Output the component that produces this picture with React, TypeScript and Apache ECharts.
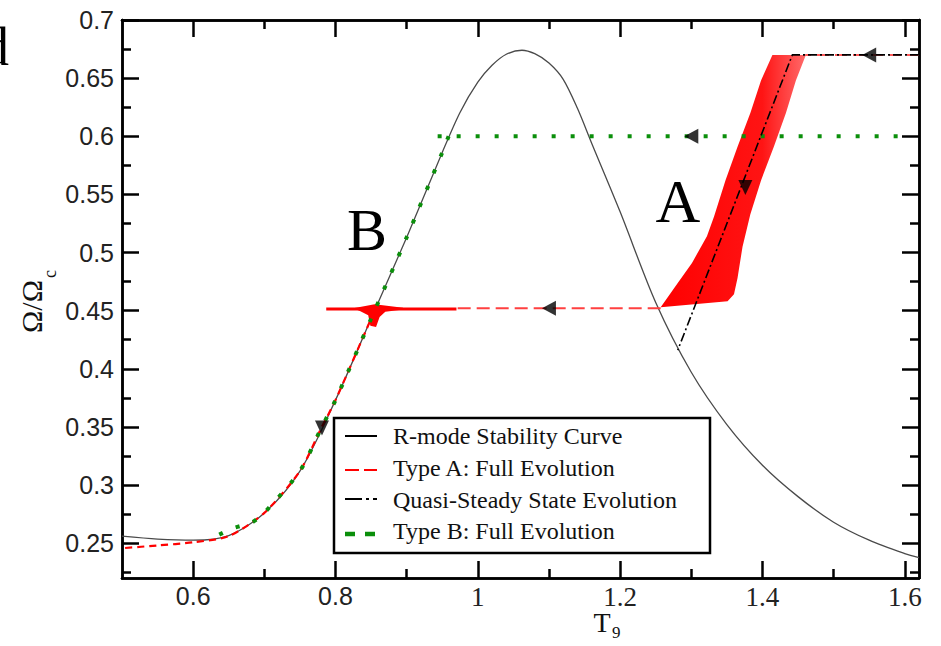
import React, { useEffect, useRef } from 'react';
import * as echarts from 'echarts';

// ---- axes ----
const xMin = 0.5;
const xMax = 1.62;
const yMin = 0.22;
const yMax = 0.7;
const xMajorTicks = [0.6, 0.8, 1, 1.2, 1.4, 1.6];
const xMinorTicks = [0.7, 0.9, 1.1, 1.3, 1.5];
const yMajorTicks = [0.25, 0.3, 0.35, 0.4, 0.45, 0.5, 0.55, 0.6, 0.65, 0.7];
const yMinorTicks = [0.225, 0.275, 0.325, 0.375, 0.425, 0.475, 0.525, 0.575, 0.625, 0.675];

// ---- R-mode stability curve ----
const stabilityT = [0.5, 0.55, 0.6, 0.65, 0.7, 0.75, 0.8, 0.85, 0.9, 0.95, 0.975, 1.0, 1.02, 1.04, 1.062, 1.08, 1.1, 1.12, 1.14, 1.16, 1.2, 1.25, 1.3, 1.35, 1.4, 1.45, 1.5, 1.55, 1.6, 1.62];
const stabilityOmega = [0.256, 0.2535, 0.2525, 0.2565, 0.276, 0.312, 0.373, 0.443, 0.513, 0.586, 0.6205, 0.6465, 0.661, 0.6705, 0.674, 0.671, 0.663, 0.649, 0.624, 0.594, 0.535, 0.457, 0.397, 0.352, 0.317, 0.29, 0.268, 0.2525, 0.241, 0.2375];

// ---- Type A: full evolution ----
const typeATopT = [1.62, 1.46];
const typeATopOmega = [0.67, 0.67];
const typeAFlatDashT = [1.257, 0.97];
const typeAFlatDashOmega = [0.452, 0.452];
const typeAFlatSolidT = [0.97, 0.787];
const typeAFlatSolidOmega = [0.4515, 0.4515];
const typeADownT = [0.855, 0.85, 0.8, 0.78, 0.75, 0.7, 0.65, 0.6, 0.55, 0.5];
const typeADownOmega = [0.45, 0.443, 0.373, 0.349, 0.312, 0.276, 0.256, 0.2507, 0.248, 0.2456];
// oscillating band (outline)
const bandLeftT = [1.257, 1.28, 1.301, 1.322, 1.332, 1.348, 1.365, 1.383, 1.398, 1.414];
const bandLeftOmega = [0.453, 0.473, 0.491, 0.514, 0.531, 0.562, 0.591, 0.62, 0.648, 0.67];
const bandRightT = [1.461, 1.447, 1.433, 1.416, 1.398, 1.383, 1.372, 1.365, 1.36, 1.351];
const bandRightOmega = [0.67, 0.648, 0.62, 0.591, 0.562, 0.533, 0.505, 0.478, 0.464, 0.458];
// small burst near the crossing
const blobT = [0.825, 0.855, 0.895, 0.895, 0.87, 0.862, 0.857, 0.849, 0.846, 0.835];
const blobOmega = [0.452, 0.4555, 0.4525, 0.451, 0.449, 0.4445, 0.436, 0.437, 0.446, 0.4495];

// ---- Quasi-steady state evolution ----
const quasiT = [1.62, 1.442, 1.281];
const quasiOmega = [0.67, 0.67, 0.416];

// ---- Type B: full evolution ----
const typeBFlatT = [1.59, 0.93];
const typeBFlatOmega = [0.6, 0.6];
const typeBDownT = [0.959, 0.95, 0.9, 0.85, 0.8, 0.78, 0.75, 0.7, 0.683, 0.656, 0.635];
const typeBDownOmega = [0.6, 0.586, 0.513, 0.443, 0.373, 0.349, 0.312, 0.276, 0.268, 0.2628, 0.2568];

// ---- direction arrows ----
const arrowLeftT = [1.55, 1.3, 1.1];
const arrowLeftOmega = [0.67, 0.6, 0.452];
const arrowDownT = [1.376, 0.781];
const arrowDownOmega = [0.556, 0.349];

// ---- legend ----
const legendLabels = ['R-mode Stability Curve', 'Type A: Full Evolution', 'Quasi-Steady State Evolution', 'Type B: Full Evolution'];

const zip = (a: number[], b: number[]) => a.map((v, i) => [v, b[i]]);

const SERIF = 'Liberation Serif';
const SANS = 'Liberation Sans';
const RED = '#ff0000';
const GREEN = '#0b8f0b';

function mkX(position: string, ticks: number[], len: number, labels: boolean) {
  return {
    type: 'value',
    gridIndex: 0,
    position,
    min: xMin,
    max: xMax,
    axisLine: { show: true, onZero: false, lineStyle: { color: '#000', width: 2.5 } },
    axisTick: { show: true, inside: true, length: len, customValues: ticks, lineStyle: { color: '#000', width: 2.5 } },
    axisLabel: labels
      ? {
          show: true,
          customValues: ticks,
          margin: 5,
          formatter: (v: number) => (v >= 1 ? `{r|${String(v)}}` : `{s|${String(v)}}`),
          rich: {
            r: { fontFamily: SERIF, fontSize: 27, color: '#222' },
            s: { fontFamily: SANS, fontSize: 25, color: '#222' },
          },
        }
      : { show: false },
    splitLine: { show: false },
  };
}

function mkY(position: string, ticks: number[], len: number, labels: boolean) {
  return {
    type: 'value',
    gridIndex: 0,
    position,
    min: yMin,
    max: yMax,
    axisLine: { show: true, onZero: false, lineStyle: { color: '#000', width: 2.5 } },
    axisTick: { show: true, inside: true, length: len, customValues: ticks, lineStyle: { color: '#000', width: 2.5 } },
    axisLabel: labels
      ? { show: true, customValues: ticks, margin: 8, fontFamily: SANS, fontSize: 25, color: '#222' }
      : { show: false },
    splitLine: { show: false },
  };
}

function lineSeries(data: number[][], color: string, width: number, type: any, z: number) {
  return {
    type: 'line',
    data,
    symbol: 'none',
    silent: true,
    z,
    lineStyle: { color, width, type },
  };
}

function polygonSeries(ts: number[], os: number[], fill: any, z: number) {
  return {
    type: 'custom',
    silent: true,
    z,
    data: [[ts[0], os[0]]],
    renderItem: (_p: any, api: any) => {
      const points = ts.map((t, i) => api.coord([t, os[i]]));
      return { type: 'polygon', shape: { points }, style: { fill, stroke: null } };
    },
  };
}

export default function App() {
  const ref = useRef<HTMLDivElement>(null);
  useEffect(() => {
    if (!ref.current) return;
    const chart = echarts.init(ref.current, null, { renderer: 'svg' });
    const bandT = bandLeftT.concat(bandRightT);
    const bandO = bandLeftOmega.concat(bandRightOmega);
    const bandFill = new echarts.graphic.LinearGradient(0, 0, 1, 0, [
      { offset: 0, color: '#ff0000' },
      { offset: 0.7, color: '#ff1414' },
      { offset: 1, color: '#ff6a6a' },
    ]);
    const legY = [436, 468, 500, 531];
    const option: any = {
      animation: false,
      backgroundColor: '#ffffff',
      grid: { left: 122, top: 20, right: 22, bottom: 68, containLabel: false, outerBoundsMode: 'none' },
      xAxis: [
        mkX('bottom', xMajorTicks, 17, true),
        mkX('bottom', xMinorTicks, 9, false),
        mkX('top', xMajorTicks, 17, false),
        mkX('top', xMinorTicks, 9, false),
      ],
      yAxis: [
        mkY('left', yMajorTicks, 17, true),
        mkY('left', yMinorTicks, 9, false),
        mkY('right', yMajorTicks, 17, false),
        mkY('right', yMinorTicks, 9, false),
      ],
      series: [
        { ...lineSeries(zip(stabilityT, stabilityOmega), '#4a4a4a', 1.3, 'solid', 2), smooth: 0.3 },
        polygonSeries(bandT, bandO, bandFill, 3),
        polygonSeries(blobT, blobOmega, RED, 3),
        lineSeries(zip(typeATopT, typeATopOmega), '#ff5a5a', 2, [12, 6], 3),
        lineSeries(zip(typeAFlatDashT, typeAFlatDashOmega), '#ff4040', 2, [13, 6], 3),
        lineSeries(zip(typeAFlatSolidT, typeAFlatSolidOmega), RED, 3, 'solid', 3),
        { ...lineSeries(zip(typeADownT, typeADownOmega), RED, 2.2, [7, 5], 3), smooth: 0.25 },
        lineSeries(zip(typeBFlatT, typeBFlatOmega), GREEN, 4, [4, 15], 4),
        { ...lineSeries(zip(typeBDownT, typeBDownOmega), GREEN, 4, [4, 14], 4), smooth: 0.25 },
        lineSeries(zip(quasiT, quasiOmega), '#000', 1.6, [9, 3, 2, 3], 5),
        {
          type: 'scatter',
          silent: true,
          z: 6,
          data: zip(arrowLeftT, arrowLeftOmega),
          symbol: 'triangle',
          symbolSize: [15, 14],
          symbolRotate: 90,
          itemStyle: { color: '#000' },
        },
        {
          type: 'scatter',
          silent: true,
          z: 6,
          data: zip(arrowDownT, arrowDownOmega),
          symbol: 'triangle',
          symbolSize: [14, 15],
          symbolRotate: 180,
          itemStyle: { color: '#000' },
        },
      ],
      graphic: [
        // panel letter (cut at the left edge as in the source figure)
        { type: 'text', x: 9, y: 47, style: { text: 'd', fontFamily: SERIF, fontSize: 54, fill: '#000', align: 'right', verticalAlign: 'middle' } },
        // curve labels
        { type: 'text', x: 678, y: 201, style: { text: 'A', fontFamily: SERIF, fontSize: 62, fill: '#000', align: 'center', verticalAlign: 'middle' } },
        { type: 'text', x: 367, y: 230, style: { text: 'B', fontFamily: SERIF, fontSize: 60, fill: '#000', align: 'center', verticalAlign: 'middle' } },
        // x axis name
        { type: 'text', x: 602, y: 622, style: { text: 'T', fontFamily: SERIF, fontSize: 28, fill: '#111', align: 'center', verticalAlign: 'middle' } },
        { type: 'text', x: 612, y: 632, style: { text: '9', fontFamily: SERIF, fontSize: 17, fill: '#111', align: 'left', verticalAlign: 'middle' } },
        // y axis name (rotated)
        {
          type: 'group',
          x: 31,
          y: 300,
          rotation: Math.PI / 2,
          children: [
            { type: 'text', x: 20, y: 0, style: { text: 'Ω/Ω', fontFamily: SERIF, fontSize: 30, fill: '#111', align: 'right', verticalAlign: 'middle' } },
            { type: 'text', x: 22, y: 19, style: { text: 'c', fontFamily: SERIF, fontSize: 18, fill: '#111', align: 'left', verticalAlign: 'middle' } },
          ],
        },
        // legend
        { type: 'rect', z: 100, shape: { x: 334, y: 418, width: 376, height: 135 }, style: { fill: '#fff', stroke: '#000', lineWidth: 2.5 } },
        { type: 'line', z: 101, shape: { x1: 345, y1: legY[0], x2: 377, y2: legY[0] }, style: { stroke: '#000', lineWidth: 2 } },
        { type: 'line', z: 101, shape: { x1: 345, y1: legY[1] + 2, x2: 377, y2: legY[1] + 2 }, style: { stroke: RED, lineWidth: 2, lineDash: [14, 5] } },
        { type: 'line', z: 101, shape: { x1: 345, y1: legY[2] - 1, x2: 377, y2: legY[2] - 1 }, style: { stroke: '#000', lineWidth: 2, lineDash: [17, 4, 3, 4] } },
        { type: 'line', z: 101, shape: { x1: 345, y1: legY[3] + 3, x2: 377, y2: legY[3] + 3 }, style: { stroke: GREEN, lineWidth: 4.5, lineDash: [10, 10] } },
        ...legendLabels.map((t, i) => ({
          type: 'text',
          z: 101,
          x: 393,
          y: legY[i],
          style: { text: t, fontFamily: SERIF, fontSize: 24, fill: '#111', align: 'left', verticalAlign: 'middle' },
        })),
      ],
    };
    chart.setOption(option);
    return () => chart.dispose();
  }, []);
  return (
    <div
      ref={ref}
      style={{ position: 'absolute', left: 0, top: 0, width: 941, height: 646, background: '#fff' }}
    />
  );
}
